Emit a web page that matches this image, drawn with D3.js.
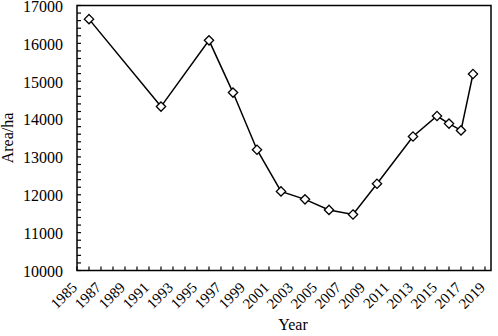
<!DOCTYPE html>
<html><head><meta charset="utf-8">
<script src="https://cdn.jsdelivr.net/npm/d3@7"></script>
<style>body{margin:0;background:#fff}svg{display:block}text{font-family:"Liberation Serif","Times New Roman",serif;fill:#000}</style>
</head><body><svg id="c" width="498" height="336"></svg>
<script>
const years = [1986,1992,1996,1998,2000,2002,2004,2006,2008,2010,2013,2015,2016,2017,2018];
const area  = [16640,14330,16080,14700,13190,12090,11880,11600,11480,12290,13540,14080,13880,13700,15190];
const xTickLabels = [1985,1987,1989,1991,1993,1995,1997,1999,2001,2003,2005,2007,2009,2011,2013,2015,2017,2019];
const yTickLabels = [10000,11000,12000,13000,14000,15000,16000,17000];
const xLabel = "Year", yLabel = "Area/ha";

const svg = d3.select("#c");
const L=77, R=491, T=5.5, B=270.5;
const x = d3.scaleLinear().domain([1985,2019.5]).range([L,R]);
const y = d3.scaleLinear().domain([10000,17000]).range([B,T]);

// minor ticks
const xMinor = d3.range(1985,2020,1);
const yMinor = d3.range(10000,17001,200);
const g = svg.append("g");
g.selectAll(".xt").data(xMinor).join("line")
  .attr("x1",d=>x(d)).attr("x2",d=>x(d)).attr("y1",B).attr("y2",B-4)
  .attr("stroke","#000").attr("stroke-width",1.2);
g.selectAll(".yt").data(yMinor).join("line")
  .attr("y1",d=>y(d)).attr("y2",d=>y(d)).attr("x1",L).attr("x2",L+4)
  .attr("stroke","#000").attr("stroke-width",1.2);

// frame
svg.append("rect").attr("x",L).attr("y",T).attr("width",R-L).attr("height",B-T)
  .attr("fill","none").attr("stroke","#000").attr("stroke-width",1.5);

// y labels
svg.selectAll(".yl").data(yTickLabels).join("text")
  .attr("x",L-14).attr("y",d=>y(d)).attr("dy","0.4em")
  .attr("text-anchor","end").attr("font-size",16).text(d=>d);

// x labels rotated
svg.selectAll(".xl").data(xTickLabels).join("text")
  .attr("transform",d=>`translate(${x(d)+1},${B+18}) rotate(-45)`)
  .attr("text-anchor","end").attr("font-size",15).text(d=>d);

svg.append("text").attr("x",293).attr("y",330).attr("text-anchor","middle")
  .attr("font-size",16).text(xLabel);
svg.append("text").attr("transform",`translate(13,${(T+B)/2}) rotate(-90)`)
  .attr("text-anchor","middle").attr("font-size",16).text(yLabel);

const pts = years.map((d,i)=>[d,area[i]]);
svg.append("path").datum(pts)
  .attr("d",d3.line().x(d=>x(d[0])).y(d=>y(d[1])))
  .attr("fill","none").attr("stroke","#000").attr("stroke-width",1.5);

svg.selectAll(".m").data(pts).join("path")
  .attr("transform",d=>`translate(${x(d[0])},${y(d[1])})`)
  .attr("d",d3.symbol(d3.symbolDiamond2,55))
  .attr("fill","#fff").attr("stroke","#000").attr("stroke-width",1.3);
</script></body></html>
